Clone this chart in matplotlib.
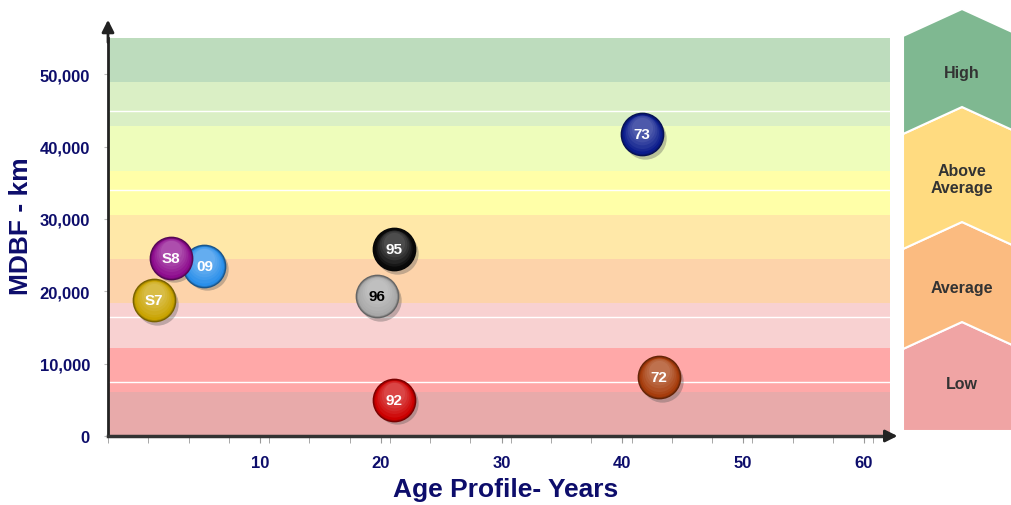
import matplotlib.pyplot as plt
import matplotlib.colors as mcolors
from matplotlib.patches import Polygon
import numpy as np

# bubble data: label, age (years), MDBF (km)
labels = ['09', 'S8', 'S7', '95', '96', '92', '73', '72']
ages = [5.4, 2.6, 1.2, 21.1, 19.7, 21.1, 41.6, 43.0]
mdbf = [23500, 24600, 18750, 25800, 19300, 5000, 41700, 8100]
bubble_colors = ['#2A8FEA', '#8E0C8E', '#C9A300', '#0A0A0A', '#A8A8A8', '#CC0000', '#0B1C8C', '#A63C0C']
text_colors = ['white', 'white', 'white', 'white', 'black', 'white', 'white', 'white']

# background bands (bottom to top)
band_colors = ['#E8AAAA', '#FFA8A8', '#F8D1D1', '#FDD3AA', '#FFE8A8',
               '#FFFFA8', '#EEFDBB', '#DAEFC5', '#BDDCBD']
band_top = 55000
white_lines = [7400, 16500, 34000, 44900]

x_ticks = [10, 20, 30, 40, 50, 60]
y_ticks = [0, 10000, 20000, 30000, 40000, 50000]

levels = ['Low', 'Average', 'Above\nAverage', 'High']
level_colors = ['#F0A4A4', '#FBBB80', '#FFDB80', '#7FB891']

navy = '#0D0D6B'
font = ['Liberation Sans', 'DejaVu Sans']

fig = plt.figure(figsize=(10.11, 5.06), dpi=100)
ax = fig.add_axes([108 / 1011, 1 - 437 / 506, 782 / 1011, 398 / 506])
ax.set_xlim(-2.58, 62.15)
ax.set_ylim(0, band_top)

h = band_top / len(band_colors)
for i, c in enumerate(band_colors):
    ax.axhspan(i * h, (i + 1) * h, color=c, lw=0, zorder=0)
for yl in white_lines:
    ax.axhline(yl, color='white', lw=1, zorder=1)


def lighten(c, f):
    r = np.array(mcolors.to_rgb(c))
    return tuple(r + (1 - r) * f)


def darken(c, f):
    r = np.array(mcolors.to_rgb(c))
    return tuple(r * (1 - f))


size = 930
for lab, xv, yv, col, tc in zip(labels, ages, mdbf, bubble_colors, text_colors):
    # shadow
    ax.scatter(xv + 0.25, yv - 450, s=size, color='#555555', alpha=0.35, lw=0, zorder=3)
    ax.scatter(xv, yv, s=size, color=darken(col, 0.15), edgecolors=darken(col, 0.4),
               linewidths=1, zorder=4)
    # simple shading toward the upper highlight
    for k, f in enumerate(np.linspace(0, 0.45, 6)):
        ss = size * (0.85 - 0.12 * k)
        ax.scatter(xv, yv + 180 * k, s=ss, color=lighten(col, f * 0.6), lw=0, zorder=4)
    ax.text(xv, yv, lab, color=tc, ha='center', va='center', fontsize=11,
            fontweight='bold', family=font, zorder=5)

for s in ['top', 'right']:
    ax.spines[s].set_visible(False)
ax.spines['left'].set_color('#222222')
ax.spines['left'].set_linewidth(2)
ax.spines['bottom'].set_color('#333333')
ax.spines['bottom'].set_linewidth(2.5)

ax.annotate('', xy=(-2.58, 57900), xytext=(-2.58, 54000), annotation_clip=False,
            arrowprops=dict(arrowstyle='-|>', color='#222222', lw=2, mutation_scale=18))
ax.annotate('', xy=(63.0, 0), xytext=(61.5, 0), annotation_clip=False,
            arrowprops=dict(arrowstyle='-|>', color='#222222', lw=2, mutation_scale=18))

ax.set_xticks(x_ticks)
ax.set_xticks(np.arange(-2.58, 62, 10 / 3), minor=True)
ax.tick_params(axis='x', which='both', length=5, color='#999999', pad=9)
ax.set_yticks(y_ticks)
ax.set_yticklabels([f'{v:,}' for v in y_ticks])
ax.tick_params(axis='y', length=3, color='#BBBBBB', pad=10)
for t in ax.get_xticklabels() + ax.get_yticklabels():
    t.set_family(font)
    t.set_fontweight('bold')
    t.set_fontsize(12)
    t.set_color(navy)

fig.text(506 / 1011, 1 - 490 / 506, 'Age Profile- Years', ha='center', va='center',
         fontsize=19, fontweight='bold', color=navy, family=font)
fig.text(21 / 1011, 1 - 226 / 506, 'MDBF - km', ha='center', va='center', rotation=90,
         fontsize=19, fontweight='bold', color=navy, family=font)

# right-hand level chevrons (pixel layout)
ax2 = fig.add_axes([893 / 1011, 0, 118 / 1011, 1])
ax2.set_xlim(893, 1011)
ax2.set_ylim(506, 0)
ax2.axis('off')
tops = [323, 223, 108, 10]
bottoms = [None, 323, 223, 108]
text_y = [385, 288, 180, 73]
xl, xc, xr, d = 903, 962, 1021, 27
for lab, col, yt, yb, ty in zip(levels, level_colors, tops, bottoms, text_y):
    if yb is None:
        pts = [(xl, yt + d), (xc, yt), (xr, yt + d), (xr, 432), (xl, 432)]
    else:
        pts = [(xl, yt + d), (xc, yt), (xr, yt + d), (xr, yb + d), (xc, yb), (xl, yb + d)]
    ax2.add_patch(Polygon(pts, closed=True, facecolor=col, edgecolor='white', lw=1.5))
    ax2.text(xc, ty, lab, ha='center', va='center', fontsize=11.5, fontweight='bold',
             color='#333333', family=font, linespacing=1.15)

fig.savefig('out.png', dpi=100)
